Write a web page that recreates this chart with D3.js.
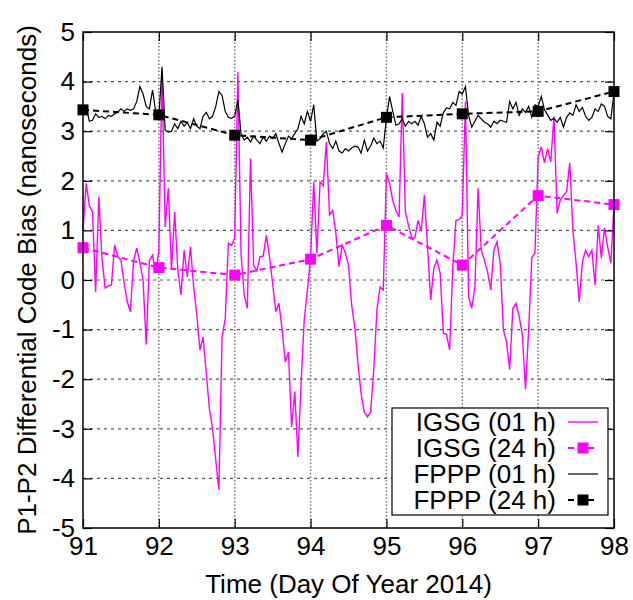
<!DOCTYPE html>
<html>
<head>
<meta charset="utf-8">
<script src="https://cdn.jsdelivr.net/npm/d3@7"></script>
<style>
  body { margin: 0; background: #fff; }
  text { font-family: "Liberation Sans", Arial, sans-serif; }
</style>
</head>
<body>
<script>
// hourly values, starting at day 91.00, one per hour
var igsgHourly = [
  1.0, 1.95, 1.5, 1.37, -0.24, 1.68, 0.44, -0.16, -0.12, -0.1, 0.7, 0.47,
  0.4, -0.06, -0.44, -0.64, 0.4, 0.64, 0.35, 0.0, -1.3, 0.4, 0.5, 0.14,
  0.6, 4.2, 1.07, 1.85, 0.2, 1.37, 0.2, -0.3, 0.6, 0.06, 0.67, -0.14,
  -0.7, -1.41, -1.15, -1.88, -2.6, -3.0, -3.63, -4.23, -1.15, -0.78, 0.74, 0.7,
  0.85, 4.2, 0.53, -0.3, -0.57, 2.45, 0.3, 0.18, 0.47, 0.48, 0.9, 0.47,
  -0.07, -0.64, -0.47, -1.0, -1.65, -1.45, -2.96, -2.25, -3.57, -2.08, -0.8, -0.2,
  0.44, 1.98, 0.54, 1.98, 1.9, 2.78, 1.31, 1.4, 0.94, 0.27, 0.7, 0.55,
  0.3, -0.5, -0.97, -1.68, -2.3, -2.66, -2.76, -2.66, -1.8, -0.6, -0.14, -0.2,
  2.15, 1.95, 1.6, 1.4, 1.27, 3.77, 1.37, 1.1, 0.85, 0.85, 1.2, 0.98,
  1.71, 0.67, -0.4, 0.24, 0.4, 0.14, -1.07, -1.1, -1.41, 0.27, 1.2, 1.22,
  1.3, 3.6, -0.34, -0.57, -0.14, 1.85, 0.6, 0.4, 0.16, -0.2, 0.6, 0.77,
  0.34, -1.0, -1.25, -1.81, -0.57, -0.47, -0.74, -1.1, -2.2, -1.0, 0.45, 0.55,
  2.48, 2.68, 2.36, 2.65, 2.38, 3.3, 1.35, 1.61, 1.7, 1.78, 2.36, 1.0,
  0.34, -0.44, 0.36, 0.6, 0.47, 0.6, -0.1, 1.1, 0.44, 1.05, 0.67, 0.34,
  1.51
];
var fpppHourly = [
  3.45, 3.5, 3.2, 3.22, 3.35, 3.28, 3.3, 3.25, 3.32, 3.3, 3.35, 3.38,
  3.45, 3.4, 3.45, 3.42, 3.45, 3.6, 3.9, 3.75, 3.5, 3.45, 3.83, 3.4,
  3.3, 4.3, 3.02, 2.98, 3.0, 3.15, 3.05, 3.2, 3.1, 3.18, 3.05, 3.25,
  3.1, 3.05, 3.3, 3.38, 3.25, 3.3, 3.5, 3.8, 3.72, 3.4, 3.28, 3.26,
  3.3, 3.63, 2.95, 2.82, 2.88, 2.78, 2.9, 2.82, 2.75, 2.88, 2.8, 2.9,
  2.85, 2.95, 2.75, 2.58, 2.75, 2.9, 2.85, 2.95, 3.05, 3.3, 3.15, 3.4,
  3.2, 3.53, 2.8, 2.85, 2.95, 3.0, 2.75, 2.65, 2.8, 2.6, 2.56, 2.65,
  2.6, 2.66, 2.7, 2.68, 2.56, 2.82, 2.6, 2.7, 2.86, 2.75, 2.8, 2.66,
  3.27, 3.7, 3.4, 3.12, 3.15, 3.25, 3.1, 3.2, 3.15, 3.2, 3.12, 3.3,
  3.15, 2.88, 2.95, 2.82, 3.18, 3.1, 3.37, 3.47, 3.45, 3.58, 3.52, 3.8,
  3.75, 3.9, 3.32, 3.08, 3.2, 3.32, 3.25, 3.18, 3.15, 3.08, 3.2, 3.15,
  3.22, 3.2, 3.18, 3.6, 3.45, 3.58, 3.32, 3.45, 3.38, 3.5, 3.28, 3.53,
  3.5, 3.7, 3.43, 3.33, 3.22, 3.26, 3.18, 3.28, 3.08, 3.28, 3.37, 3.32,
  3.53, 3.4, 3.48, 3.3, 3.22, 3.28, 3.45, 3.4, 3.55, 3.5, 3.3, 3.25,
  3.77
];
// daily values
var days = [91, 92, 93, 94, 95, 96, 97, 98];
var igsgDaily = [0.65, 0.25, 0.1, 0.42, 1.1, 0.3, 1.7, 1.52];
var fpppDaily = [3.43, 3.33, 2.92, 2.82, 3.28, 3.35, 3.4, 3.8];

var xTicks = [91, 92, 93, 94, 95, 96, 97, 98];
var yTicks = [-5, -4, -3, -2, -1, 0, 1, 2, 3, 4, 5];

(function() {
  var width = 633, height = 600;
  var margin = {top: 32, right: 19, bottom: 72, left: 83};
  var iw = width - margin.left - margin.right;
  var ih = height - margin.top - margin.bottom;
  var fs = 26;

  var svg = d3.select("body").append("svg")
    .attr("width", width)
    .attr("height", height);

  var g = svg.append("g")
    .attr("transform", "translate(" + margin.left + "," + margin.top + ")");

  var x = d3.scaleLinear().domain([91, 98]).range([0, iw]);
  var y = d3.scaleLinear().domain([-5, 5]).range([ih, 0]);

  // grid
  g.selectAll(".hgrid")
    .data(yTicks.slice(1, -1))
    .enter().append("line")
    .attr("x1", 0).attr("x2", iw)
    .attr("y1", function(d) { return y(d); })
    .attr("y2", function(d) { return y(d); })
    .attr("stroke", "#555")
    .attr("stroke-width", 1.2)
    .attr("stroke-dasharray", "3,4");

  g.selectAll(".vgrid")
    .data(xTicks.slice(1, -1))
    .enter().append("line")
    .attr("y1", 0).attr("y2", ih)
    .attr("x1", function(d) { return x(d); })
    .attr("x2", function(d) { return x(d); })
    .attr("stroke", "#777")
    .attr("stroke-width", 1.5)
    .attr("stroke-dasharray", "1.5,2");

  var hourLine = d3.line()
    .x(function(d, i) { return x(91 + i / 24); })
    .y(function(d) { return y(d); });
  var dayLine = d3.line()
    .x(function(d, i) { return x(days[i]); })
    .y(function(d) { return y(d); });

  function drawDaily(vals, color) {
    g.append("path")
      .attr("d", dayLine(vals))
      .attr("fill", "none")
      .attr("stroke", color)
      .attr("stroke-width", 2)
      .attr("stroke-dasharray", "6,4");
    g.selectAll(null)
      .data(vals)
      .enter().append("rect")
      .attr("x", function(d, i) { return x(days[i]) - 5.5; })
      .attr("y", function(d) { return y(d) - 5.5; })
      .attr("width", 11)
      .attr("height", 11)
      .attr("fill", color);
  }

  g.append("path")
    .attr("d", hourLine(igsgHourly))
    .attr("fill", "none")
    .attr("stroke", "#ff00ff")
    .attr("stroke-width", 1.4);

  drawDaily(igsgDaily, "#ff00ff");

  g.append("path")
    .attr("d", hourLine(fpppHourly))
    .attr("fill", "none")
    .attr("stroke", "#000")
    .attr("stroke-width", 1.2);

  drawDaily(fpppDaily, "#000");

  // axes with inward ticks on all sides
  var fmt = function(d) { return String(d); };
  var axL = g.append("g").call(d3.axisLeft(y).tickValues(yTicks).tickSize(-9).tickPadding(8).tickFormat(fmt));
  var axR = g.append("g").attr("transform", "translate(" + iw + ",0)")
    .call(d3.axisRight(y).tickValues(yTicks).tickSize(-9).tickFormat(""));
  var axB = g.append("g").attr("transform", "translate(0," + ih + ")")
    .call(d3.axisBottom(x).tickValues(xTicks).tickSize(-9).tickPadding(9).tickFormat(fmt));
  var axT = g.append("g")
    .call(d3.axisTop(x).tickValues(xTicks).tickSize(-9).tickFormat(""));

  [axL, axR, axB, axT].forEach(function(a) {
    a.select(".domain").remove();
    a.selectAll("line").attr("stroke", "#000").attr("stroke-width", 1.2);
    a.selectAll("text")
      .attr("font-size", fs)
      .attr("fill", "#000")
      .attr("font-family", "Liberation Sans, Arial, sans-serif");
  });

  g.append("rect")
    .attr("width", iw).attr("height", ih)
    .attr("fill", "none")
    .attr("stroke", "#000")
    .attr("stroke-width", 1.5);

  // legend
  var legendItems = [
    {label: "IGSG (01 h)", color: "#ff00ff", dash: null, marker: false, w: 1.4},
    {label: "IGSG (24 h)", color: "#ff00ff", dash: "6,4", marker: true, w: 2},
    {label: "FPPP (01 h)", color: "#000", dash: null, marker: false, w: 1.2},
    {label: "FPPP (24 h)", color: "#000", dash: "6,4", marker: true, w: 2}
  ];

  var lg = svg.append("g");
  lg.append("rect")
    .attr("x", 392).attr("y", 408)
    .attr("width", 216).attr("height", 107)
    .attr("fill", "#fff")
    .attr("stroke", "#000")
    .attr("stroke-width", 1.2);

  var rows = lg.selectAll(".row")
    .data(legendItems)
    .enter().append("g")
    .attr("transform", function(d, i) { return "translate(0," + (422 + i * 26) + ")"; });

  rows.append("text")
    .attr("x", 556)
    .attr("y", 0)
    .attr("dy", "0.36em")
    .attr("text-anchor", "end")
    .attr("font-size", fs)
    .text(function(d) { return d.label; });

  rows.append("line")
    .attr("x1", 568).attr("x2", 598)
    .attr("y1", 0).attr("y2", 0)
    .attr("stroke", function(d) { return d.color; })
    .attr("stroke-width", function(d) { return d.w; })
    .attr("stroke-dasharray", function(d) { return d.dash; });

  rows.filter(function(d) { return d.marker; })
    .append("rect")
    .attr("x", 577.5).attr("y", -5.5)
    .attr("width", 11).attr("height", 11)
    .attr("fill", function(d) { return d.color; });

  // axis titles
  svg.append("text")
    .attr("x", margin.left + iw / 2)
    .attr("y", 593)
    .attr("text-anchor", "middle")
    .attr("font-size", fs)
    .text("Time (Day Of Year 2014)");

  svg.append("text")
    .attr("transform", "translate(36," + (margin.top + ih / 2) + ") rotate(-90)")
    .attr("text-anchor", "middle")
    .attr("font-size", fs)
    .text("P1-P2 Differential Code Bias (nanoseconds)");
})();
</script>
</body>
</html>
